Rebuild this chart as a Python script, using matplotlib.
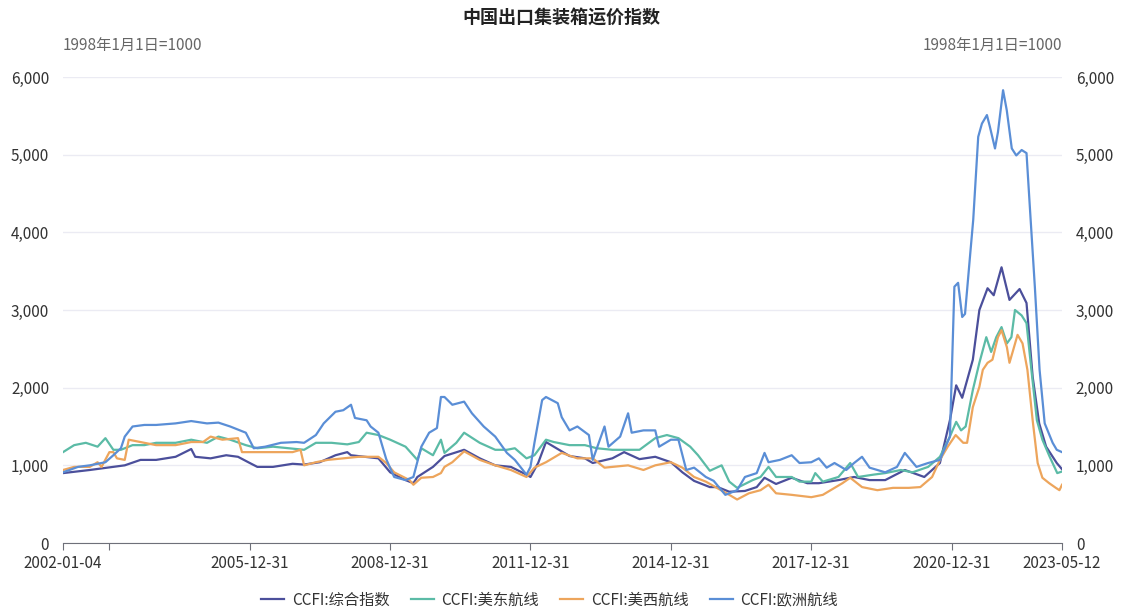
import matplotlib.pyplot as plt
import matplotlib.dates as mdates
import matplotlib.ticker as mticker
import pandas as pd

plt.rcParams['font.family'] = ['Noto Sans CJK SC', 'DejaVu Sans']

# data (index, 1998-01-01 = 1000)
comp_dates = ['2002-01-04', '2002-08', '2003-05', '2003-09', '2004-01', '2004-06', '2004-10', '2004-11',
              '2005-03', '2005-07', '2005-10', '2006-01', '2006-03', '2006-07', '2006-12', '2007-03',
              '2007-07', '2007-11', '2008-02', '2008-03', '2008-10', '2009-01', '2009-05', '2009-07',
              '2009-08', '2009-12', '2010-03', '2010-08', '2010-12', '2011-04', '2011-08', '2011-12',
              '2012-01', '2012-03', '2012-05', '2012-07', '2012-11', '2013-03', '2013-05', '2013-10',
              '2014-01', '2014-05', '2014-09', '2015-01', '2015-04', '2015-07', '2015-11', '2016-01',
              '2016-04', '2016-08', '2016-11', '2017-01', '2017-04', '2017-08', '2017-12', '2018-03',
              '2018-08', '2018-12', '2019-04', '2019-08', '2020-01', '2020-06', '2020-10-01', '2020-12-18',
              '2021-02-05', '2021-03-24', '2021-06-15', '2021-08-05', '2021-10-08', '2021-11-25', '2022-01-25',
              '2022-03-28', '2022-06-15', '2022-08-08', '2022-09-25', '2022-11-15', '2023-01-08', '2023-04-01',
              '2023-05-12']
comp_vals = [900, 940, 1000, 1070, 1070, 1110, 1210, 1110,
             1090, 1130, 1110, 1030, 980, 980, 1020, 1010,
             1040, 1130, 1170, 1130, 1090, 910, 810, 770,
             850, 980, 1120, 1200, 1090, 1000, 980, 880,
             850, 1030, 1300, 1240, 1120, 1090, 1030, 1090,
             1170, 1080, 1110, 1040, 910, 800, 720, 720,
             660, 670, 720, 840, 760, 840, 770, 770,
             810, 850, 810, 810, 940, 850, 1030, 1580,
             2030, 1870, 2360, 3000, 3280, 3190, 3550,
             3130, 3270, 3090, 2140, 1540, 1240, 1030,
             950]

east_dates = ['2002-01-04', '2002-04', '2002-07', '2002-10', '2002-12', '2003-02', '2003-04', '2003-07',
              '2003-10', '2004-01', '2004-06', '2004-10', '2005-02', '2005-05', '2005-08', '2005-12',
              '2006-03', '2006-07', '2006-11', '2007-03', '2007-06', '2007-10', '2008-02', '2008-05',
              '2008-07', '2008-10', '2009-01', '2009-05', '2009-08', '2009-09', '2009-12', '2010-02',
              '2010-03', '2010-06', '2010-08', '2010-12', '2011-04', '2011-07', '2011-09', '2011-12',
              '2012-02', '2012-05', '2012-07', '2012-11', '2013-03', '2013-06', '2013-10', '2014-01',
              '2014-05', '2014-09', '2014-12', '2015-03', '2015-06', '2015-08', '2015-11', '2016-02',
              '2016-04', '2016-06', '2016-10', '2016-12', '2017-02', '2017-04', '2017-08', '2017-10',
              '2018-01', '2018-02', '2018-04', '2018-08', '2018-11', '2019-01', '2019-05', '2019-08',
              '2019-12', '2020-03', '2020-07', '2020-10', '2020-12-18', '2021-02-05', '2021-03-15',
              '2021-04-20', '2021-06-15', '2021-08-05', '2021-09-28', '2021-11-05', '2021-12-15',
              '2022-01-25', '2022-03-08', '2022-04-12', '2022-05-10', '2022-07-01', '2022-08-08',
              '2022-09-15', '2022-10-28', '2022-12-10', '2023-02-05', '2023-04-05', '2023-05-12']
east_vals = [1170, 1260, 1290, 1240, 1350, 1200, 1200, 1260,
             1260, 1290, 1290, 1330, 1290, 1370, 1330, 1260,
             1220, 1240, 1220, 1200, 1290, 1290, 1270, 1300,
             1420, 1390, 1330, 1240, 1070, 1220, 1130, 1330,
             1160, 1290, 1420, 1290, 1200, 1200, 1220, 1090,
             1130, 1330, 1300, 1260, 1260, 1220, 1200, 1200,
             1200, 1350, 1390, 1350, 1240, 1130, 930, 1000,
             790, 710, 810, 850, 980, 850, 850, 790,
             790, 900, 790, 850, 1030, 850, 880, 900,
             940, 910, 980, 1110, 1370, 1560, 1450,
             1500, 1970, 2320, 2650, 2460, 2650,
             2780, 2570, 2650, 3000, 2930, 2830,
             2230, 1580, 1330, 1110, 900, 920]

west_dates = ['2002-01-04', '2002-04', '2002-08', '2002-10', '2002-11', '2003-01', '2003-02', '2003-03',
              '2003-05', '2003-06', '2003-08', '2003-10', '2004-01', '2004-06', '2004-10', '2005-01',
              '2005-03', '2005-06', '2005-10', '2005-11', '2006-03', '2006-07', '2006-12', '2007-02',
              '2007-03', '2007-06', '2007-09', '2008-01', '2008-05', '2008-10', '2008-12', '2009-02',
              '2009-06', '2009-07', '2009-09', '2009-12', '2010-02', '2010-03', '2010-05', '2010-08',
              '2010-12', '2011-04', '2011-08', '2011-12', '2012-02', '2012-05', '2012-09', '2013-01',
              '2013-05', '2013-08', '2014-02', '2014-06', '2014-09', '2015-01', '2015-04', '2015-07',
              '2015-10', '2016-04', '2016-06', '2016-09', '2016-12', '2017-02', '2017-04', '2017-08',
              '2018-01', '2018-04', '2018-06', '2018-09', '2018-11', '2019-02', '2019-06', '2019-10',
              '2020-02', '2020-05', '2020-08', '2020-10', '2020-12', '2021-02', '2021-04', '2021-05',
              '2021-06-15', '2021-08-05', '2021-09-01', '2021-10-08', '2021-11-15', '2021-12-28',
              '2022-01-25', '2022-03-08', '2022-03-28', '2022-04-20', '2022-05-30', '2022-07-08',
              '2022-08-15', '2022-09-25', '2022-11-03', '2022-12-10', '2023-02-01', '2023-03-25',
              '2023-04-22', '2023-05-12']
west_vals = [940, 980, 980, 1040, 980, 1170, 1170, 1090,
             1070, 1330, 1310, 1290, 1260, 1260, 1300, 1300,
             1370, 1330, 1350, 1170, 1170, 1170, 1170, 1200,
             1000, 1040, 1070, 1090, 1110, 1110, 1030, 910,
             810, 750, 840, 850, 900, 980, 1040, 1180,
             1070, 1000, 940, 850, 970, 1040, 1160, 1090,
             1090, 970, 1000, 940, 1000, 1040, 970, 850,
             790, 620, 560, 640, 680, 750, 640, 620,
             590, 620, 680, 770, 840, 720, 680, 710,
             710, 720, 850, 1070, 1240, 1390, 1290, 1290,
             1750, 2010, 2230, 2320, 2360, 2650,
             2740, 2520, 2320, 2450, 2680, 2570,
             2230, 1580, 1030, 840, 770, 710,
             680, 750]

eu_dates = ['2002-01-04', '2002-05', '2002-08', '2002-12', '2003-02', '2003-04', '2003-05', '2003-07',
            '2003-10', '2004-01', '2004-06', '2004-10', '2005-02', '2005-05', '2005-08', '2005-12',
            '2006-02', '2006-05', '2006-09', '2007-01', '2007-03', '2007-06', '2007-08', '2007-11',
            '2008-01', '2008-03', '2008-04', '2008-07', '2008-08', '2008-10', '2008-12', '2009-02',
            '2009-05', '2009-07', '2009-09', '2009-11', '2010-01', '2010-02', '2010-03', '2010-05',
            '2010-08', '2010-10', '2011-01', '2011-04', '2011-07', '2011-09', '2011-12', '2012-01',
            '2012-02', '2012-04', '2012-05', '2012-08', '2012-09', '2012-11', '2013-01', '2013-04',
            '2013-05', '2013-08', '2013-09', '2013-12', '2014-02', '2014-03', '2014-06', '2014-09',
            '2014-10', '2015-01', '2015-03', '2015-05', '2015-07', '2015-10', '2015-12', '2016-03',
            '2016-06', '2016-08', '2016-11', '2017-01', '2017-02', '2017-05', '2017-08', '2017-10',
            '2018-01', '2018-03', '2018-05', '2018-07', '2018-10', '2018-12', '2019-02', '2019-04',
            '2019-08', '2019-11', '2020-01', '2020-04', '2020-07', '2020-10', '2020-12-18',
            '2021-01-22', '2021-02-20', '2021-03-24', '2021-04-15', '2021-05-26', '2021-06-18',
            '2021-07-27', '2021-08-25', '2021-10-03', '2021-10-26', '2021-12-05', '2021-12-28',
            '2022-02-06', '2022-03-07', '2022-04-15', '2022-05-20', '2022-07-01', '2022-08-08',
            '2022-09-01', '2022-10-12', '2022-11-18', '2022-12-28', '2023-02-28', '2023-04-01',
            '2023-05-12']
eu_vals = [910, 980, 1000, 1040, 1130, 1220, 1370, 1500,
           1520, 1520, 1540, 1570, 1540, 1550, 1500, 1420,
           1220, 1240, 1290, 1300, 1290, 1390, 1540, 1690,
           1710, 1780, 1610, 1580, 1500, 1420, 1080, 850,
           810, 850, 1240, 1420, 1480, 1880, 1880, 1780,
           1820, 1670, 1500, 1370, 1160, 1070, 880, 980,
           1290, 1840, 1880, 1800, 1620, 1450, 1500, 1390,
           1070, 1500, 1240, 1370, 1670, 1420, 1450, 1450,
           1240, 1330, 1330, 940, 970, 850, 800, 620,
           680, 850, 900, 1160, 1040, 1070, 1130, 1030,
           1040, 1090, 970, 1030, 940, 1030, 1110, 970,
           910, 980, 1160, 980, 1030, 1070, 1370,
           3300, 3350, 2910, 2950, 3730, 4160,
           5230, 5400, 5510, 5360, 5080, 5290,
           5830, 5570, 5080, 4990, 5060, 5020,
           4380, 3300, 2230, 1540, 1290, 1200,
           1170]

series = [
    ('CCFI:综合指数', comp_dates, comp_vals, '#4b4f9b'),
    ('CCFI:美东航线', east_dates, east_vals, '#5bbba6'),
    ('CCFI:美西航线', west_dates, west_vals, '#eda55c'),
    ('CCFI:欧洲航线', eu_dates, eu_vals, '#5a8ed6'),
]

tick_dates = ['2002-01-04', '2002-12-31', '2005-12-31', '2008-12-31', '2011-12-31',
              '2014-12-31', '2017-12-31', '2020-12-31', '2023-05-12']
tick_labels = ['2002-01-04', '', '2005-12-31', '2008-12-31', '2011-12-31',
               '2014-12-31', '2017-12-31', '2020-12-31', '2023-05-12']

fig = plt.figure(figsize=(11.22, 6.11), dpi=100)
ax = fig.add_axes([63 / 1122, 1 - 543 / 611, (1062 - 63) / 1122, (543 - 77) / 611])

for name, d, v, c in series:
    ax.plot(pd.to_datetime(d, format='mixed'), v, color=c, lw=1.6, label=name)

ax.set_xlim(pd.Timestamp('2002-01-04'), pd.Timestamp('2023-05-12'))
ax.set_ylim(0, 6000)
ax.yaxis.set_major_locator(mticker.MultipleLocator(1000))
ax.yaxis.set_major_formatter(mticker.FuncFormatter(lambda v, p: f'{int(v):,}'))
ax.set_xticks(pd.to_datetime(tick_dates))
ax.set_xticklabels(tick_labels)
ax.grid(axis='y', color='#ebebf3', lw=1)
ax.set_axisbelow(True)
for s in ['top', 'left', 'right']:
    ax.spines[s].set_visible(False)
ax.spines['bottom'].set_color('#6e7079')
ax.tick_params(axis='x', colors='#6e7079', labelcolor='#333333', labelsize=11, length=5, pad=4)
ax.tick_params(axis='y', length=0, labelcolor='#333333', labelsize=11, pad=10)

ax2 = ax.twinx()
ax2.set_ylim(0, 6000)
ax2.yaxis.set_major_locator(mticker.MultipleLocator(1000))
ax2.yaxis.set_major_formatter(mticker.FuncFormatter(lambda v, p: f'{int(v):,}'))
ax2.tick_params(axis='y', length=0, labelcolor='#333333', labelsize=11, pad=10)
for s in ax2.spines.values():
    s.set_visible(False)

fig.text(0.5, 1 - 17 / 611, '中国出口集装箱运价指数', ha='center', va='center',
         fontsize=13, fontweight='bold', color='#222222')
fig.text(63 / 1122, 1 - 45 / 611, '1998年1月1日=1000', ha='left', va='center',
         fontsize=11, color='#666666')
fig.text(1062 / 1122, 1 - 45 / 611, '1998年1月1日=1000', ha='right', va='center',
         fontsize=11, color='#666666')

fig.legend(loc='center', bbox_to_anchor=(0.49, 1 - 600 / 611), ncol=4, frameon=False,
           fontsize=11, handlelength=1.5, columnspacing=1.4, handletextpad=0.5,
           labelcolor='#333333')

plt.savefig('out.png')
